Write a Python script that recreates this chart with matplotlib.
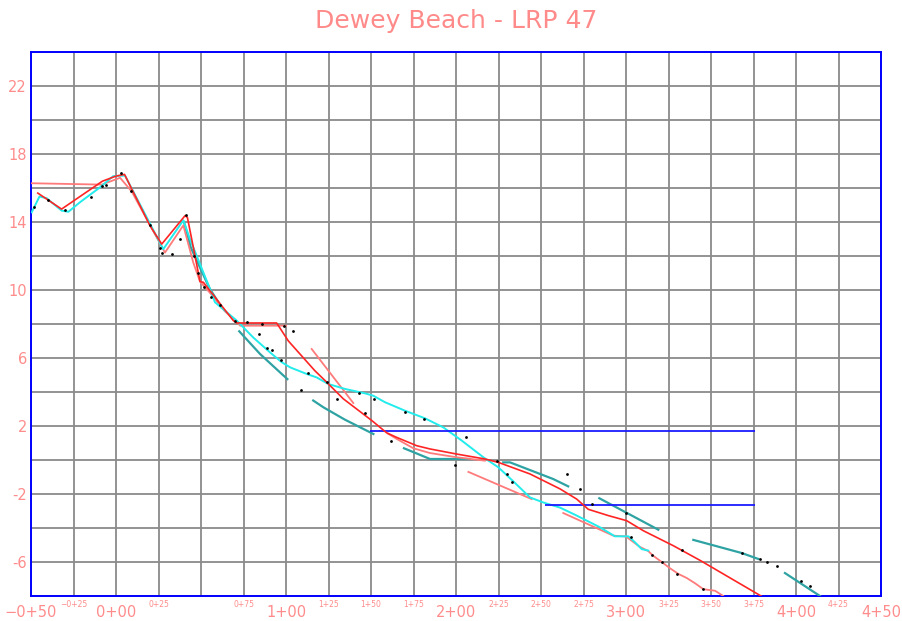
import numpy as np
import matplotlib
matplotlib.use("Agg")
import matplotlib.pyplot as plt
import matplotlib.transforms as mtransforms

# Profile surveys (station ft, elevation ft)
red_x = [-46, -32, -8, 0, 5, 20, 26.9, 40.6, 42, 46.5, 49.4, 51.4, 62.2, 69, 71, 94.5, 101.4,
         117, 123, 133.7, 150.6, 159.2, 165.1, 176.9, 184.7, 200.4, 217, 224.9, 243.5,
         261.2, 271, 277.8, 289.6, 300.4, 310.2, 327.8, 343.5, 380.8]
red_y = [15.7, 14.76, 16.4, 16.7, 16.8, 13.78, 12.7, 14.37, 14.27, 12.0, 10.5, 10.45, 9.07, 8.2,
         8.06, 8.06, 7.0, 5.25, 4.67, 3.6, 2.31, 1.6, 1.33, 0.84, 0.65, 0.35, 0.06, -0.14,
         -0.82, -1.7, -2.3, -2.9, -3.27, -3.57, -4.16, -5.04, -5.9, -8.08]

salmon_x = [
    [-50, -8.4, 2.4, 9.2, 28.8, 39.6, 45.5, 49.4, 57.3, 64, 71, 73, 100],
    [115.1, 139.6],
    [160, 165.1, 174.9, 184.7, 200.4, 217],
    [207.3, 244.5],
    [263.1, 292.5, 300, 308, 313, 316, 321, 325.9, 330.8, 335.7, 340.6, 345.5, 352.4, 357.2],
]
salmon_y = [
    [16.28, 16.2, 16.6, 15.8, 12.2, 13.8, 11.6, 10.5, 9.6, 8.75, 8.14, 7.9, 7.9],
    [6.53, 3.35],
    [1.55, 1.24, 0.69, 0.41, 0.16, -0.04],
    [-0.7, -2.3],
    [-3.12, -4.45, -4.5, -5.1, -5.35, -5.63, -6.0, -6.37, -6.7, -6.94, -7.25, -7.6, -7.69, -8.0],
]

cyan_x = [-49.6, -45, -40.8, -32, -28, -21.2, -9.4, -1.6, 5.3, 27.8, 39.6, 43.5, 55.3, 58.2,
          71, 80.8, 90.6, 97.5, 102.4, 112.2, 118, 124.9, 134.7, 146.5, 151.4, 158.2, 170,
          181.8, 192.5, 203.4, 216.1, 224.9, 234.7, 243.5, 251.4, 261.2, 271, 284.7, 293.5,
          301.4, 305.3, 309.2, 313.1]
cyan_y = [14.57, 15.5, 15.4, 14.67, 14.6, 15.16, 16.04, 16.7, 16.73, 12.4, 14.1, 13.0, 10.06, 9.28,
          8.2, 7.2, 6.33, 5.75, 5.45, 5.06, 4.86, 4.47, 4.18, 3.92, 3.78, 3.4, 2.9,
          2.45, 1.92, 1.14, 0.16, -0.43, -1.35, -2.2, -2.5, -2.8, -3.27, -3.96, -4.49,
          -4.49, -4.84, -5.24, -5.33]

teal_x = [
    [40, 44, 55, 62],
    [72.5, 84.7, 97.5, 100.8],
    [116, 122, 134.7, 151.4],
    [169.4, 184.7, 208.2],
    [227.8, 231.8, 257.2, 266],
    [284.3, 319],
    [339.6, 368, 377.8],
    [393.5, 414.1],
]
teal_y = [
    [14.0, 12.5, 10.1, 9.0],
    [7.57, 6.24, 5.06, 4.76],
    [3.5, 3.1, 2.37, 1.53],
    [0.69, 0.06, 0.06],
    [-0.14, -0.14, -1.12, -1.55],
    [-2.25, -4.1],
    [-4.7, -5.47, -5.82],
    [-6.65, -8.0],
]

# water levels: start station, end station, elevation
wl_start = [149.4, 252.4]
wl_end = [375.9, 375.9]
wl_elev = [1.73, -2.65]

dots_x = [-48, -40, -30, -15, -8, -6, 3, 9, 20, 26, 27, 32.7, 37.6, 41, 46, 48, 52, 56, 61, 70,
          77, 86, 104, 84, 92, 97, 109, 124, 130, 146.5, 143, 152, 161.6, 170, 181, 199.4,
          206, 224.3, 230, 233, 265, 273, 280, 300, 303, 315, 321, 330, 333, 345, 368,
          378.8, 383, 388.6, 403, 408, 113, 89, 99]
dots_y = [14.9, 15.3, 14.7, 15.5, 16.1, 16.2, 16.9, 15.8, 13.8, 12.5, 12.2, 12.1, 13.0, 14.4,
          12.0, 11.0, 10.2, 9.6, 9.1, 8.2, 8.1, 8.0, 7.6, 7.4, 6.5, 5.9, 4.1, 4.6, 3.6, 2.76,
          3.95, 3.6, 1.14, 2.8, 2.4, -0.27, 1.35, -0.04, -0.82, -1.3, -0.8, -1.7, -2.6, -3.1,
          -4.5, -5.6, -6.0, -6.7, -5.3, -7.6, -5.47, -5.8, -6.0, -6.25, -7.1, -7.4, 5.1, 6.6, 7.9]

major_sta = [-50, 0, 100, 200, 300, 400, 450]
minor_sta = [-25, 25, 75, 125, 150, 175, 225, 250, 275, 325, 350, 375, 425]
y_labels = [-6, -2, 2, 6, 10, 14, 18, 22]

label_col = "#ff8c8c"


def sta(v):
    a = abs(int(v))
    s = f"{a // 100}+{a % 100:02d}"
    return "\u2212" + s if v < 0 else s


fig = plt.figure(figsize=(9.02, 6.21), dpi=100)
ax = fig.add_axes([31 / 902, 1 - 596 / 621, 850 / 902, 544 / 621])

ax.set_xlim(-50, 450)
ax.set_ylim(-8, 24)
ax.set_xticks(np.arange(-50, 451, 25))
ax.set_xticklabels([])
ax.set_yticks(y_labels)
ax.set_yticks(np.arange(-8, 25, 2), minor=True)
ax.set_yticklabels([str(v) for v in y_labels])
ax.tick_params(axis="both", which="both", length=0)
ax.tick_params(axis="y", labelsize=10.5, labelcolor=label_col, pad=3)
ax.grid(True, which="both", color="#8a8a8a", linewidth=1.3)
ax.set_axisbelow(True)
for sp in ax.spines.values():
    sp.set_color("#0000ff")
    sp.set_linewidth(1.4)

trans = mtransforms.blended_transform_factory(ax.transData, ax.transAxes)
for v in major_sta:
    ax.text(v, -0.016, sta(v), transform=trans, ha="center", va="top",
            fontsize=10.5, color=label_col)
for v in minor_sta:
    ax.text(v, -0.007, sta(v), transform=trans, ha="center", va="top",
            fontsize=5.5, color=label_col)

# draw surveys
for xs, ys in zip(teal_x, teal_y):
    ax.plot(xs, ys, color="#2fa3a3", linewidth=1.6, zorder=3)
for xs, ys in zip(salmon_x, salmon_y):
    ax.plot(xs, ys, color="#ff7a7a", linewidth=1.3, zorder=4)
ax.plot(cyan_x, cyan_y, color="#22ecec", linewidth=1.4, zorder=5)
ax.plot(red_x, red_y, color="#ff2424", linewidth=1.2, zorder=6)
ax.hlines(wl_elev, wl_start, wl_end, color="#1a1aff", linewidth=1.3, zorder=5)
ax.scatter(dots_x, dots_y, s=4, color="black", zorder=7, linewidths=0)

fig.text(0.506, 1 - 21 / 621, "Dewey Beach - LRP 47", ha="center", va="center",
         fontsize=18, color="#ff8a8a")

fig.savefig("out.png", dpi=100)
